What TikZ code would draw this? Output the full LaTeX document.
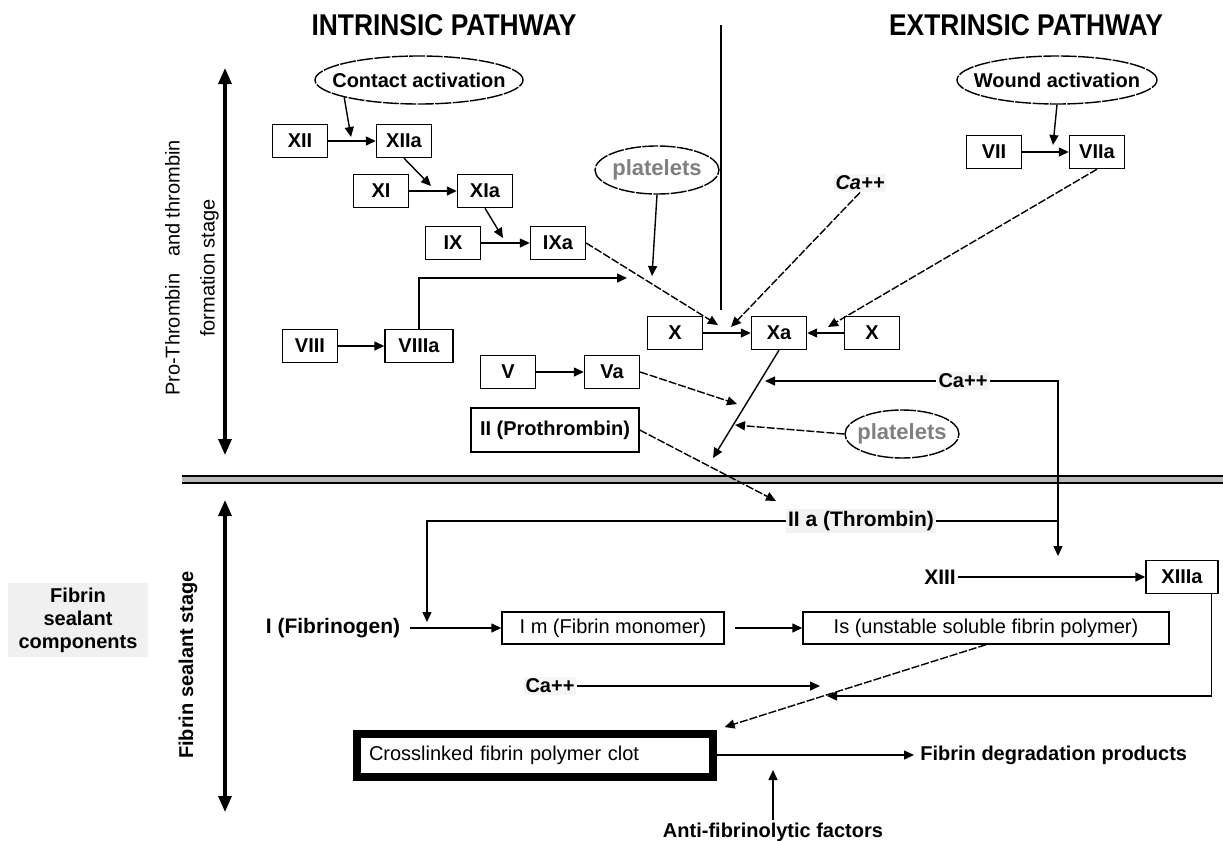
\documentclass[tikz,border=0pt]{standalone}
\usepackage{fontspec}
\setmainfont{Liberation Sans}
\usetikzlibrary{arrows.meta,shapes.geometric}

\tikzset{
  fac/.style={draw, line width=0.7pt, font=\bfseries\fontsize{10}{12}\selectfont, minimum width=27.5pt, minimum height=16.5pt, inner sep=1pt},
  wbox/.style={fac, font=\fontsize{10}{12}\selectfont, minimum height=16pt},
  oval/.style={ellipse, draw, line width=0.7pt, dash pattern=on 8pt off 0.7pt, font=\bfseries\fontsize{10}{12}\selectfont, inner sep=0pt, minimum height=24pt},
  lbl/.style={font=\bfseries\fontsize{10}{12}\selectfont, inner sep=1pt},
  arr/.style={line width=0.7pt, -{Triangle[length=5pt,width=4.5pt]}},
  darr/.style={arr, dash pattern=on 4pt off 1pt},
  stage/.style={line width=1.6pt, {Triangle[length=8pt,width=6.5pt]}-{Triangle[length=8pt,width=6.5pt]}},
  ttl/.style={font=\bfseries\fontsize{15}{18}\selectfont, xscale=0.88, transform shape}
}

\begin{document}
\begin{tikzpicture}[x=0.5pt,y=-0.5pt]
\useasboundingbox (0,0) rectangle (1223,841);

% headings and dividers
\node[ttl] (tin) at (444,25) {INTRINSIC PATHWAY};
\node[ttl] (tex) at (1026,25) {EXTRINSIC PATHWAY};
\draw[line width=1.3pt] (721,25) -- (721,310);
\fill[gray!55] (182,476) rectangle (1223,483);
\draw[line width=1.4pt] (182,476) -- (1223,476);
\draw[line width=1.4pt] (182,483) -- (1223,483);

% stages on the left
\draw[stage] (225,68) -- (225,455);
\draw[stage] (225,500) -- (225,812);
\node[rotate=90, align=center, font=\fontsize{10}{17.5}\selectfont] (stg1) at (192,268) {Pro-Thrombin\ \ \ and thrombin\\formation stage};
\node[lbl, rotate=90] (stg2) at (188,665) {Fibrin sealant stage};
\node[lbl, fill=gray!12, align=center, font=\bfseries\fontsize{10}{11.5}\selectfont, minimum width=70pt, minimum height=37pt] (comp) at (78,620) {Fibrin\\sealant\\components};

% intrinsic pathway
\node[oval, minimum width=104pt] (contact) at (419,80) {\makebox[0pt]{Contact activation}};
\node[fac] (xii) at (300,141) {XII};
\node[fac] (xiia) at (404,141) {XIIa};
\node[fac] (xi) at (381,191) {XI};
\node[fac] (xia) at (485,191) {XIa};
\node[fac] (ix) at (453,243) {IX};
\node[fac] (ixa) at (558,243) {IXa};
\node[oval, minimum width=62pt, text=gray] (plta) at (657,170) {\makebox[0pt]{\fontsize{11}{12}\selectfont platelets}};
\node[fac] (viii) at (310,346) {VIII};
\node[fac, minimum width=34pt] (viiia) at (419,346) {VIIIa};
\node[fac] (xl) at (675,333) {X};
\node[fac] (xa) at (779,333) {Xa};
\node[fac] (xr) at (872,333) {X};
\node[fac] (v) at (508,372) {V};
\node[fac] (va) at (612,372) {Va};
\node[fac, minimum width=84pt, minimum height=22pt] (ii) at (555,430) {II (Prothrombin)};

% extrinsic pathway
\node[oval, minimum width=100pt] (wound) at (1057,80) {\makebox[0pt]{Wound activation}};
\node[fac] (vii) at (994,152) {VII};
\node[fac] (viia) at (1097,152) {VIIa};
\node[lbl, fill=gray!8] (caa) at (860,183) {\itshape Ca++};
\node[lbl, fill=gray!8] (cab) at (963,381) {Ca++};
\node[oval, minimum width=57pt, text=gray] (pltb) at (902,434) {\makebox[0pt]{\fontsize{11}{12}\selectfont platelets}};

% fibrin sealant stage
\node[lbl, fill=gray!10, font=\bfseries\fontsize{10.5}{12}\selectfont] (iia) at (861,521) {II a (Thrombin)};
\node[lbl, font=\bfseries\fontsize{10.5}{12}\selectfont] (xiii) at (940,577) {XIII};
\node[fac, minimum width=36pt] (xiiia) at (1182,577) {XIIIa};
\node[lbl, font=\bfseries\fontsize{10.5}{12}\selectfont] (fgn) at (333,628) {I (Fibrinogen)};
\node[wbox, minimum width=111pt] (im) at (613,628) {I m (Fibrin monomer)};
\node[wbox, minimum width=183pt] (is) at (986,628) {Is (unstable soluble fibrin polymer)};
\node[lbl, fill=gray!8] (cac) at (550,686) {Ca++};
\node[draw, line width=4pt, font=\fontsize{10}{12}\selectfont, text width=166pt, align=left, inner xsep=6pt, minimum height=21.5pt] (clot) at (535,755) {Crosslinked fibrin polymer clot};
\node[lbl, anchor=west] (fdp) at (918,755) {Fibrin degradation products};
\node[lbl] (anti) at (773,832) {Anti-fibrinolytic factors};

% free ends of the connectors
\coordinate (p1) at (351,137);
\coordinate (p2) at (431,186);
\coordinate (p3) at (503,238);
\coordinate (p4) at (718,325);
\coordinate (p5) at (652,276);
\coordinate (p6) at (627,278);
\coordinate (p7) at (731,327);
\coordinate (p8) at (1053,145);
\coordinate (p9) at (828,327);
\coordinate (p10) at (737,404);
\coordinate (p11) at (713,458);
\coordinate (p12) at (765,381);
\coordinate (p13) at (1058,556);
\coordinate (p14) at (735,425);
\coordinate (p15) at (776,501);
\coordinate (p16) at (427,622);
\coordinate (p17) at (827,696);
\coordinate (p18) at (820,686);
\coordinate (p19) at (773,770);

% intrinsic connectors
\draw[arr] (contact.193) -- (p1);
\draw[arr] (xii) -- (xiia);
\draw[arr] (xiia.south) -- (p2);
\draw[arr] (xi) -- (xia);
\draw[arr] (xia.south) -- (p3);
\draw[arr] (ix) -- (ixa);
\draw[darr] (ixa.east) -- (p4);
\draw[arr] (plta.south) -- (p5);
\draw[arr] (viii) -- (viiia);
\draw[arr] (viiia.north) |- (p6);
\draw[arr] (xl) -- (xa);
\draw[arr] (xr) -- (xa);
\draw[arr] (v) -- (va);
\draw[darr] (va.east) -- (p10);
\draw[arr] (xa.south) -- (p11);
\draw[darr] (ii.east) -- (p15);

% extrinsic connectors
\draw[arr] (wound.south) -- (p8);
\draw[arr] (vii) -- (viia);
\draw[darr] (viia.south) -- (p9);
\draw[darr] (caa.south) -- (p7);
\draw[arr] (cab.west) -- (p12);
\draw[arr] (cab.east) -| (p13);
\draw[darr] (pltb.west) -- (p14);

% fibrin connectors
\draw[line width=0.7pt] (iia.east) -- (iia.east -| p13);
\draw[arr] (iia.west) -| (p16);
\draw[arr, shorten <=4pt] (fgn.east) -- (im.west);
\draw[arr, shorten <=5pt] (im.east) -- (is.west);
\draw[arr] (xiii.east) -- (xiiia.west);
\draw[arr] ([xshift=-3.5pt]xiiia.south east) |- (p17);
\draw[arr] (cac.east) -- (p18);
\draw[darr, shorten >=4pt] (is.south) -- (clot.north east);
\draw[arr, shorten >=2pt] (clot.east) -- (fdp.west);
\draw[arr] (anti.north) -- (p19);
\end{tikzpicture}
\end{document}
